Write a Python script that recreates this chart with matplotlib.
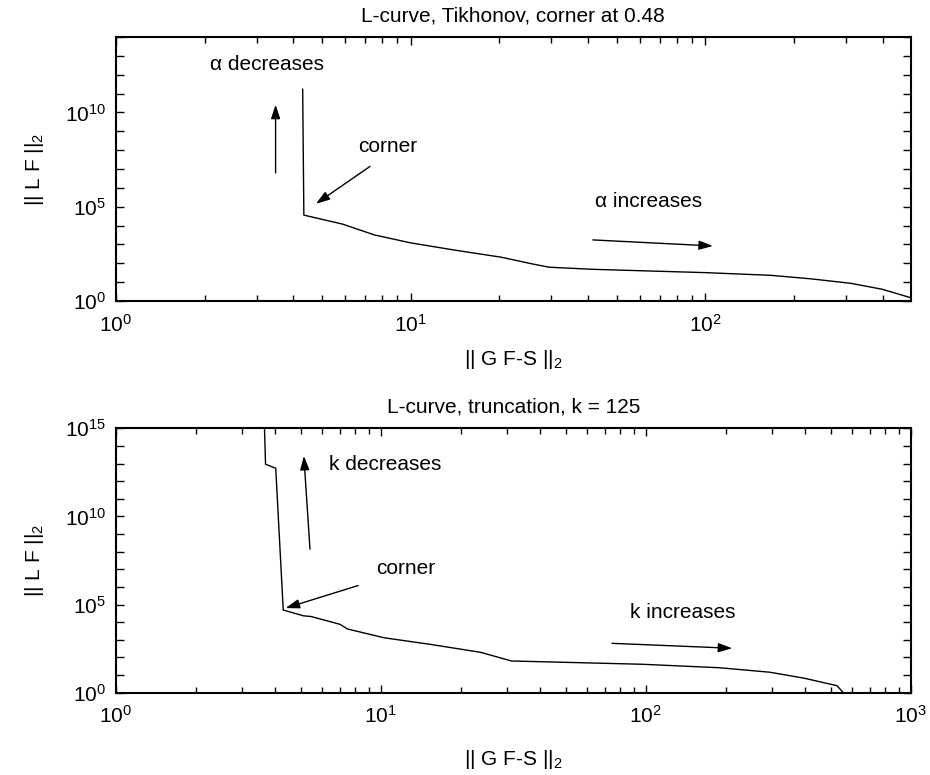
import math

import matplotlib
matplotlib.use('Agg')
import matplotlib.pyplot as plt
from matplotlib.ticker import FixedLocator, FuncFormatter, LogLocator, NullFormatter

plt.rcParams['font.family'] = ['Liberation Sans', 'DejaVu Sans']
plt.rcParams['mathtext.default'] = 'regular'
plt.rcParams['font.size'] = 15

# Tikhonov L-curve: residual norm vs. seminorm
tik_res = [4.30, 4.34, 5.87, 7.53, 9.95, 14.0, 20.3, 26.0, 29.5, 41.4,
           100.0, 167.0, 228.0, 311.0, 398.0, 497.0]
tik_norm = [1.7e11, 3.6e4, 1.2e4, 3.2e3, 1.23e3, 510, 210, 91, 62, 48,
            32, 23, 15, 8.7, 4.2, 1.5]

# truncated SVD L-curve
tsvd_res = [3.62, 3.67, 4.01, 4.28, 5.10, 5.45, 7.0, 7.49, 10.3, 15.4, 23.8,
            31.1, 97.0, 190.0, 294.0, 397.0, 527.0, 554.0, 570.0]
tsvd_norm = [1e16, 9.1e12, 5.4e12, 4.9e4, 2.3e4, 2.1e4, 7.6e3, 4.1e3, 1.3e3,
             550, 195, 63, 41, 26, 14.5, 6.6, 2.5, 1.1, 0.3]

titles = ['L-curve, Tikhonov, corner at 0.48', 'L-curve, truncation, k = 125']
xlabel = '|| G F-S ||$_2$'
ylabel = '|| L F ||$_2$'


def sci(v, pos):
    return '$10^{%d}$' % round(math.log10(v))


def every_fifth(v, pos):
    return sci(v, pos) if round(math.log10(v)) % 5 == 0 else ''


def style_axes(ax, ymax_exp, xlabelpad):
    ax.set_xscale('log')
    ax.set_yscale('log')
    ax.yaxis.set_major_locator(FixedLocator([10.0 ** e for e in range(0, ymax_exp + 1)]))
    ax.yaxis.set_major_formatter(FuncFormatter(every_fifth))
    ax.yaxis.set_minor_locator(FixedLocator([]))
    ax.xaxis.set_major_locator(LogLocator(base=10))
    ax.xaxis.set_major_formatter(FuncFormatter(sci))
    ax.xaxis.set_minor_locator(LogLocator(base=10, subs=range(2, 10)))
    ax.xaxis.set_minor_formatter(NullFormatter())
    ax.tick_params(which='both', direction='in', top=True, right=True, width=1)
    ax.tick_params(which='major', length=6)
    ax.tick_params(which='minor', length=4)
    ax.tick_params(axis='x', pad=9)
    ax.tick_params(axis='y', pad=7)
    for s in ax.spines.values():
        s.set_linewidth(1.5)
    ax.set_xlabel(xlabel, labelpad=xlabelpad)
    ax.set_ylabel(ylabel, labelpad=14)


def arrow(ax, start, end):
    ax.annotate('', xy=end, xytext=start,
                arrowprops=dict(arrowstyle='-|>,head_length=0.6,head_width=0.2',
                                color='k', lw=1, mutation_scale=14,
                                shrinkA=0, shrinkB=0))


fig = plt.figure(figsize=(9.3, 7.75), dpi=100)
ax1 = fig.add_axes([0.1247, 0.6116, 0.8545, 0.3406])
ax2 = fig.add_axes([0.1247, 0.1062, 0.8545, 0.3412])

ax1.plot(tik_res, tik_norm, color='k', lw=1)
style_axes(ax1, 14, 9)
ax1.set_xlim(1, tik_res[-1])
ax1.set_ylim(1, 1e14)
ax1.set_title(titles[0], fontsize=15, pad=11)
ax1.text(3.25, 10 ** 12.53, 'α decreases', ha='center', va='center')
arrow(ax1, (3.48, 10 ** 6.79), (3.48, 10 ** 10.41))
ax1.text(8.37, 10 ** 8.2, 'corner', ha='center', va='center')
arrow(ax1, (7.28, 10 ** 7.14), (4.77, 10 ** 5.16))
ax1.text(64, 10 ** 5.27, 'α increases', ha='center', va='center')
arrow(ax1, (41.5, 10 ** 3.24), (106, 10 ** 2.92))

ax2.plot(tsvd_res, tsvd_norm, color='k', lw=1)
style_axes(ax2, 15, 15)
ax2.set_xlim(1, 1000)
ax2.set_ylim(1, 1e15)
ax2.set_title(titles[1], fontsize=15, pad=11)
ax2.text(10.4, 10 ** 12.92, 'k decreases', ha='center', va='center')
arrow(ax2, (5.4, 10 ** 8.14), (5.12, 10 ** 13.43))
ax2.text(12.4, 10 ** 7.06, 'corner', ha='center', va='center')
arrow(ax2, (8.21, 10 ** 6.08), (4.37, 10 ** 4.80))
ax2.text(138, 10 ** 4.56, 'k increases', ha='center', va='center')
arrow(ax2, (74.6, 10 ** 2.80), (212, 10 ** 2.52))

fig.savefig('out.png', dpi=100)
